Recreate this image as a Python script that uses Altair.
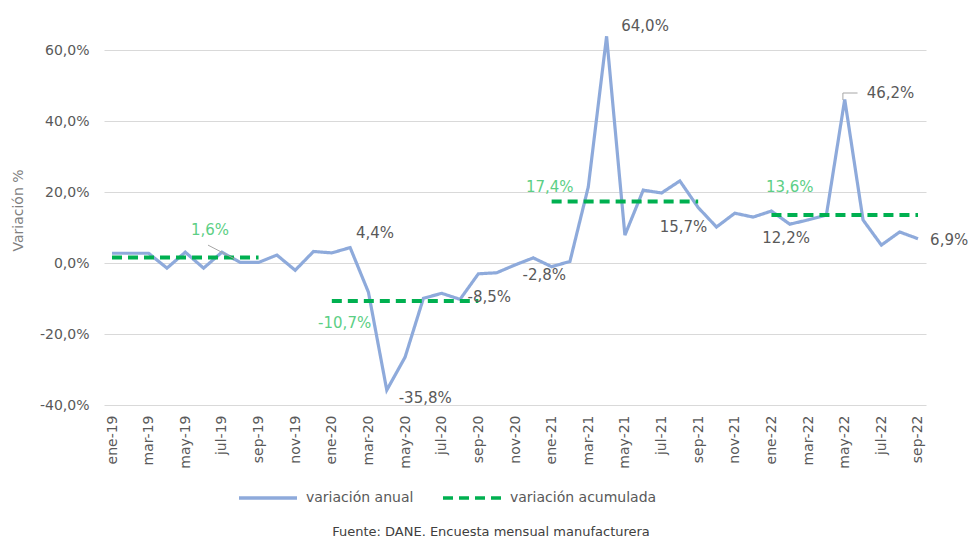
import json
import altair as alt
import pandas as pd

FONT = "DejaVu Sans"
GRIS = "#595959"
AZUL = "#8eaadb"
VERDE = "#00b050"
VERDE_TXT = "#5ccf85"

# ---------------- data ----------------
meses = [
    "ene-19", "feb-19", "mar-19", "abr-19", "may-19", "jun-19", "jul-19", "ago-19", "sep-19", "oct-19", "nov-19", "dic-19",
    "ene-20", "feb-20", "mar-20", "abr-20", "may-20", "jun-20", "jul-20", "ago-20", "sep-20", "oct-20", "nov-20", "dic-20",
    "ene-21", "feb-21", "mar-21", "abr-21", "may-21", "jun-21", "jul-21", "ago-21", "sep-21", "oct-21", "nov-21", "dic-21",
    "ene-22", "feb-22", "mar-22", "abr-22", "may-22", "jun-22", "jul-22", "ago-22", "sep-22",
]

variacion_anual = [
    2.8, 2.8, 2.8, -1.4, 3.1, -1.4, 3.1, 0.2, 0.2, 2.3, -2.0, 3.3,
    2.9, 4.4, -8.2, -35.8, -26.5, -9.9, -8.5, -10.2, -3.0, -2.7, -0.5, 1.5,
    -1.0, 0.5, 21.5, 64.0, 7.9, 20.6, 19.8, 23.2, 15.7, 10.2, 14.1, 13.0,
    14.7, 11.0, 12.2, 13.6, 46.2, 12.2, 5.1, 8.8, 6.9,
]

acum_anios = ["2019", "2020", "2021", "2022"]
acum_valores = [1.6, -10.7, 17.4, 13.6]
acum_desde = ["ene-19", "ene-20", "ene-21", "ene-22"]
acum_hasta = ["sep-19", "sep-20", "sep-21", "sep-22"]

# annotation texts with their anchor (month position, value level)
etq_gris_texto = ["4,4%", "-35,8%", "-8,5%", "-2,8%", "64,0%", "15,7%", "12,2%", "46,2%", "6,9%"]
etq_gris_mes = [14.36, 17.1, 20.6, 23.6, 29.1, 31.2, 36.8, 42.5, 45.7]
etq_gris_valor = [8.5, -38.1, -9.6, -3.4, 67.0, 10.2, 7.0, 48.0, 6.5]

etq_verde_texto = ["1,6%", "-10,7%", "17,4%", "13,6%"]
etq_verde_mes = [5.35, 12.7, 23.9, 37.0]
etq_verde_valor = [9.3, -17.0, 21.5, 21.5]

# leader lines (month position / value level)
guia_x1 = [5.24, 39.9, 39.9]
guia_y1 = [5.1, 46.0, 48.0]
guia_x2 = [6.7, 39.9, 40.7]
guia_y2 = [1.2, 48.0, 48.0]

series = ["variación anual", "variación acumulada"]

# ---------------- tables ----------------
df_anual = pd.DataFrame({
    "idx": list(range(len(meses))),
    "mes": meses,
    "val": variacion_anual,
    "serie": series[0],
})

rows = []
for a, v, d, h in zip(acum_anios, acum_valores, acum_desde, acum_hasta):
    rows.append({"idx": meses.index(d), "val": v, "anio": a, "serie": series[1]})
    rows.append({"idx": meses.index(h), "val": v, "anio": a, "serie": series[1]})
df_acum = pd.DataFrame(rows)

df_gris = pd.DataFrame({"idx": etq_gris_mes, "val": etq_gris_valor, "txt": etq_gris_texto})
df_verde = pd.DataFrame({"idx": etq_verde_mes, "val": etq_verde_valor, "txt": etq_verde_texto})
df_guia = pd.DataFrame({"x1": guia_x1, "y1": guia_y1, "x2": guia_x2, "y2": guia_y2})

# ---------------- scales / axes ----------------
x_scale = alt.Scale(domain=[-0.437, len(meses) - 1 + 0.437], nice=False, zero=False)
y_scale = alt.Scale(domain=[-40, 70], nice=False, zero=False)

x_axis = alt.Axis(
    values=list(range(0, len(meses), 2)),
    labelExpr=json.dumps(meses) + "[datum.value]",
    labelAngle=270,
    grid=False, domain=False, ticks=False, tickSize=0,
    labelPadding=10, labelFontSize=14, labelColor=GRIS, labelFont=FONT,
    title=None, labelOverlap=False, labelBound=False, labelFlush=False,
)
y_axis = alt.Axis(
    values=[-40, -20, 0, 20, 40, 60],
    labelExpr="replace(replace(format(datum.value, '.1f'), '.', ','), '\u2212', '-') + '%'",
    grid=True, gridColor="#d9d9d9", gridWidth=1.2,
    domain=False, ticks=False, tickSize=0,
    labelPadding=15, labelFontSize=14, labelColor=GRIS, labelFont=FONT,
    title="Variación %", titleFont=FONT, titleFontSize=14, titleFontWeight="normal",
    titleColor="#7f7f7f", titlePadding=14,
)

leg = alt.Legend(
    title=None, orient="none", legendX=133, legendY=452, direction="horizontal",
    symbolType="stroke", symbolSize=3364, symbolStrokeWidth=3.5,
    labelFontSize=14, labelColor=GRIS, labelFont=FONT, labelOffset=7,
    columnPadding=22,
)

color_enc = alt.Color("serie:N", scale=alt.Scale(domain=series, range=[AZUL, VERDE]), legend=leg)
dash_enc = alt.StrokeDash("serie:N", scale=alt.Scale(domain=series, range=[[1, 0], [10, 6]]), legend=leg)

X = lambda f: alt.X(f, scale=x_scale, axis=x_axis)
Y = lambda f: alt.Y(f, scale=y_scale, axis=y_axis)

linea_anual = alt.Chart(df_anual).mark_line(strokeWidth=3.2).encode(
    x=X("idx:Q"), y=Y("val:Q"), color=color_enc, strokeDash=dash_enc,
)

linea_acum = alt.Chart(df_acum).mark_line(strokeWidth=4).encode(
    x=X("idx:Q"), y=Y("val:Q"), color=color_enc, strokeDash=dash_enc, detail="anio:N",
)

guias = alt.Chart(df_guia).mark_rule(color="#a6a6a6", strokeWidth=1).encode(
    x=X("x1:Q"), y=Y("y1:Q"), x2="x2:Q", y2="y2:Q",
)

txt_gris = alt.Chart(df_gris).mark_text(
    font=FONT, fontSize=15, color=GRIS, align="center", baseline="middle"
).encode(x=X("idx:Q"), y=Y("val:Q"), text="txt:N")

txt_verde = alt.Chart(df_verde).mark_text(
    font=FONT, fontSize=15, color=VERDE_TXT, align="center", baseline="middle"
).encode(x=X("idx:Q"), y=Y("val:Q"), text="txt:N")

chart = alt.layer(linea_anual, linea_acum, guias, txt_gris, txt_verde).properties(
    width=822,
    height=390,
    background="white",
    autosize=alt.AutoSizeParams(type="none"),
    padding={"left": 96, "top": 7, "right": 42, "bottom": 137},
    title=alt.TitleParams(
        text="Fuente: DANE. Encuesta mensual manufacturera",
        orient="bottom", anchor="middle", offset=40, dx=-24, dy=-19,
        font=FONT, fontSize=13, fontWeight="normal", color="#404040",
    ),
).configure_view(stroke=None, strokeWidth=0).configure_axisX(labelOverlap=False)

chart.save("out.html", embed_options={"renderer": "svg", "actions": False})
